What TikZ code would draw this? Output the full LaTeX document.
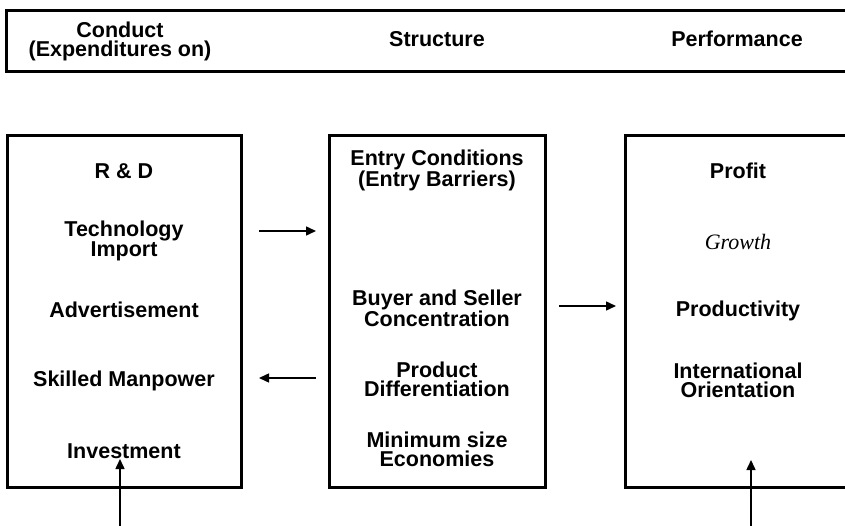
\documentclass[tikz,border=0pt]{standalone}
\usepackage{fontspec}
\setmainfont{Liberation Sans}
\newfontfamily\grfont{Liberation Serif}
\usetikzlibrary{arrows.meta}
\begin{document}
\begin{tikzpicture}[x=1bp,y=-1bp,
  panel/.style={draw, line width=3bp, inner sep=0pt, outer sep=0pt, anchor=north west},
  lbl/.style={font=\bfseries\fontsize{21.5bp}{19bp}\selectfont, align=center, inner sep=0pt, anchor=base},
  glbl/.style={font=\grfont\itshape\fontsize{22bp}{19bp}\selectfont, inner sep=0pt, anchor=base},
  arr/.style={line width=1.5bp, -{Triangle[length=10bp,width=9bp]}}]
\useasboundingbox (0,0) rectangle (845,526);
\clip (0,0) rectangle (845,526);
% boxes
\node[panel, minimum width=854bp, minimum height=61bp] (head) at (6,11) {};
\node[panel, minimum width=234bp, minimum height=351bp] (cond) at (7,136) {};
\node[panel, minimum width=216bp, minimum height=351bp] (struc) at (329,136) {};
\node[panel, minimum width=250bp, minimum height=351bp] (perf) at (625,136) {};
% header texts (two-line nodes are placed by the baseline of their last line)
\node[lbl] (hc) at (120,57) {Conduct\\(Expenditures on)};
\node[lbl] (hs) at (437,47) {Structure};
\node[lbl] (hp) at (737,47) {Performance};
% conduct
\node[lbl] (rd) at (124,179) {R \& D};
\node[lbl] (ti) at (124,257) {Technology\\Import};
\node[lbl] (ad) at (124,318) {Advertisement};
\node[lbl] (sm) at (124,386) {Skilled Manpower};
\node[lbl] (iv) at (124,458) {Investment};
% structure
\node[lbl] (ec) at (437,187) {Entry Conditions\\(Entry Barriers)};
\node[lbl] (bs) at (437,327) {Buyer and Seller\\Concentration};
\node[lbl] (pd) at (437,396) {Product\\Differentiation};
\node[lbl] (ms) at (437,466) {Minimum size\\Economies};
% performance
\node[lbl] (pf) at (738,179) {Profit};
\node[glbl] (gr) at (738,250) {Growth};
\node[lbl] (pr) at (738,317) {Productivity};
\node[lbl] (io) at (738,397) {International\\Orientation};
% arrows
\coordinate (a1s) at (259,231);
\coordinate (a1e) at (316,231);
\coordinate (a2s) at (559,306);
\coordinate (a2e) at (616,306);
\coordinate (a3s) at (316,378);
\coordinate (a3e) at (259,378);
\coordinate (b1s) at (120,532);
\coordinate (b1e) at (120,459);
\coordinate (b2s) at (751,532);
\coordinate (b2e) at (751,460);
\draw[arr] (a1s) -- (a1e);
\draw[arr] (a2s) -- (a2e);
\draw[arr] (a3s) -- (a3e);
\draw[arr] (b1s) -- (b1e);
\draw[arr] (b2s) -- (b2e);
\end{tikzpicture}
\end{document}
